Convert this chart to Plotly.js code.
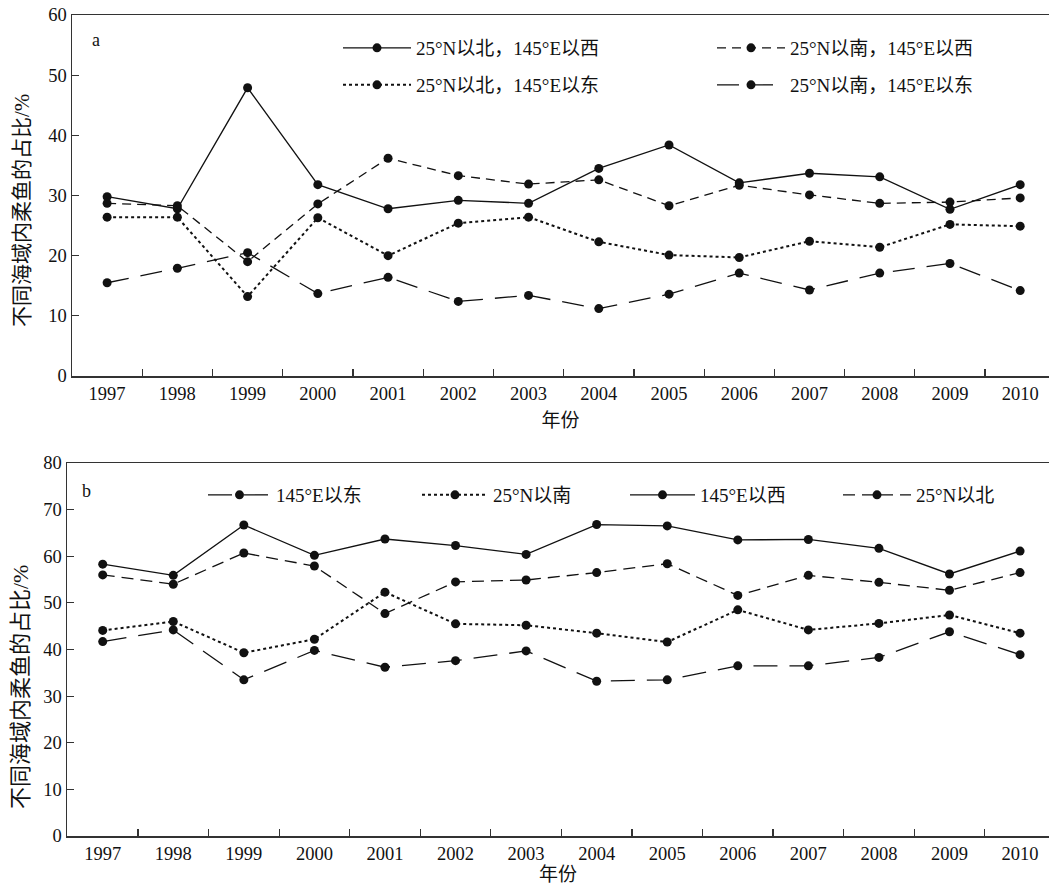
<!DOCTYPE html>
<html>
<head>
<meta charset="utf-8">
<script src="https://cdn.plot.ly/plotly-3.0.1.min.js"></script>
<style>html,body{margin:0;padding:0;background:#fff;}#chart{width:1050px;height:887px;}</style>
</head>
<body>
<div id="chart"></div>
<script>
const years = ['1997','1998','1999','2000','2001','2002','2003','2004','2005','2006','2007','2008','2009','2010'];

// Panel a
const aNames = ['25°N以北，145°E以西','25°N以南，145°E以西','25°N以北，145°E以东','25°N以南，145°E以东'];
const a_nw = [29.8, 27.8, 47.9, 31.8, 27.8, 29.2, 28.7, 34.5, 38.4, 32.1, 33.7, 33.1, 27.7, 31.8];
const a_sw = [28.7, 28.3, 19.0, 28.6, 36.2, 33.3, 31.9, 32.6, 28.3, 31.7, 30.1, 28.7, 28.9, 29.6];
const a_ne = [26.4, 26.4, 13.2, 26.3, 20.0, 25.4, 26.4, 22.3, 20.1, 19.7, 22.4, 21.4, 25.2, 24.9];
const a_se = [15.5, 17.9, 20.5, 13.7, 16.4, 12.4, 13.4, 11.2, 13.6, 17.1, 14.3, 17.1, 18.7, 14.2];

// Panel b
const bNames = ['145°E以东','25°N以南','145°E以西','25°N以北'];
const b_e = [41.7, 44.2, 33.5, 39.8, 36.2, 37.6, 39.7, 33.2, 33.5, 36.5, 36.5, 38.3, 43.8, 38.9];
const b_s = [44.1, 46.0, 39.3, 42.2, 52.3, 45.5, 45.2, 43.5, 41.6, 48.5, 44.2, 45.6, 47.4, 43.5];
const b_w = [58.3, 55.9, 66.7, 60.2, 63.7, 62.3, 60.4, 66.8, 66.5, 63.5, 63.6, 61.7, 56.2, 61.1];
const b_n = [56.0, 54.0, 60.7, 57.9, 47.7, 54.5, 54.9, 56.5, 58.4, 51.6, 55.9, 54.4, 52.7, 56.5];

const yTitle = '不同海域内柔鱼的占比/%';
const xTitle = '年份';

const FONT = 'Liberation Serif, "Times New Roman", "Noto Sans CJK SC", serif';
const INK = '#111';

function tr(y, name, dash, width, xa, ya, leg) {
  return {
    x: years, y: y, name: name, type: 'scatter', mode: 'lines+markers',
    xaxis: xa, yaxis: ya, legend: leg,
    line: {color: INK, width: width, dash: dash},
    marker: {color: INK, size: 9, symbol: 'circle'},
    cliponaxis: false
  };
}

const data = [
  tr(a_nw, aNames[0], 'solid', 1.3, 'x', 'y', 'legend'),
  tr(a_sw, aNames[1], '9px,6px', 1.3, 'x', 'y', 'legend2'),
  tr(a_ne, aNames[2], 'dot', 2, 'x', 'y', 'legend3'),
  tr(a_se, aNames[3], '22px,12px', 1.3, 'x', 'y', 'legend4'),
  tr(b_e, bNames[0], '24px,12px', 1.3, 'x2', 'y2', 'legend5'),
  tr(b_s, bNames[1], 'dot', 2, 'x2', 'y2', 'legend6'),
  tr(b_w, bNames[2], 'solid', 1.3, 'x2', 'y2', 'legend7'),
  tr(b_n, bNames[3], '12px,7px', 1.3, 'x2', 'y2', 'legend8')
];

const W = 1050, H = 887;
function px(x){ return x / W; }
function py(y){ return 1 - y / H; }

function legendAt(x, y, iw) {
  return {
    xref: 'paper', yref: 'paper', x: px(x), y: py(y),
    xanchor: 'left', yanchor: 'middle',
    bgcolor: 'rgba(0,0,0,0)', borderwidth: 0,
    itemwidth: iw, itemclick: false, itemdoubleclick: false,
    font: {family: FONT, size: 19, color: INK}
  };
}

const axisCommon = {
  type: 'category', showgrid: false, zeroline: false,
  showline: true, linecolor: '#333', linewidth: 1.5,
  ticks: 'inside', ticklen: 7, tickcolor: '#333', tickwidth: 1.2,
  tickfont: {family: FONT, size: 18.5, color: INK},
  automargin: false
};

const layout = {
  width: W, height: H,
  margin: {l: 0, r: 0, t: 0, b: 0, autoexpand: false},
  paper_bgcolor: '#fff', plot_bgcolor: '#fff',
  font: {family: FONT, color: INK},
  xaxis: Object.assign({}, axisCommon, {
    domain: [72 / W, 1049 / W], anchor: 'y', range: [-0.5, 13.41],
    tickson: 'boundaries', mirror: true,
    title: {text: xTitle, font: {family: FONT, size: 19, color: INK}, standoff: 11}
  }),
  yaxis: Object.assign({}, axisCommon, {
    type: 'linear', domain: [py(376), py(15)], anchor: 'x', range: [0, 60], dtick: 10
  }),
  xaxis2: Object.assign({}, axisCommon, {
    domain: [67 / W, 1049 / W], anchor: 'y2', range: [-0.506, 13.41],
    tickson: 'boundaries', mirror: true,
    title: {text: xTitle, font: {family: FONT, size: 19, color: INK}, standoff: 4}
  }),
  yaxis2: Object.assign({}, axisCommon, {
    type: 'linear', domain: [py(836), py(463)], anchor: 'x2', range: [0, 80], dtick: 10
  }),
  showlegend: true,
  legend: legendAt(338, 48, 68),
  legend2: legendAt(712, 48, 68),
  legend3: legendAt(338, 85, 68),
  legend4: legendAt(712, 85, 68),
  legend5: legendAt(203, 495, 63),
  legend6: legendAt(417, 495, 66),
  legend7: legendAt(625, 495, 65),
  legend8: legendAt(838, 495, 68),
  annotations: [
    {text: 'a', xref: 'paper', yref: 'paper', x: px(96), y: py(40), showarrow: false,
     font: {family: FONT, size: 18, color: INK}, xanchor: 'center', yanchor: 'middle'},
    {text: 'b', xref: 'paper', yref: 'paper', x: px(86), y: py(491), showarrow: false,
     font: {family: FONT, size: 18, color: INK}, xanchor: 'center', yanchor: 'middle'},
    {text: yTitle, xref: 'paper', yref: 'paper', x: px(22), y: py(211), showarrow: false,
     textangle: -90, font: {family: FONT, size: 21, color: INK}, xanchor: 'center', yanchor: 'middle'},
    {text: yTitle, xref: 'paper', yref: 'paper', x: px(20), y: py(687), showarrow: false,
     textangle: -90, font: {family: FONT, size: 22, color: INK}, xanchor: 'center', yanchor: 'middle'}
  ]
};

Plotly.newPlot('chart', data, layout, {staticPlot: true, displayModeBar: false});
</script>
</body>
</html>
